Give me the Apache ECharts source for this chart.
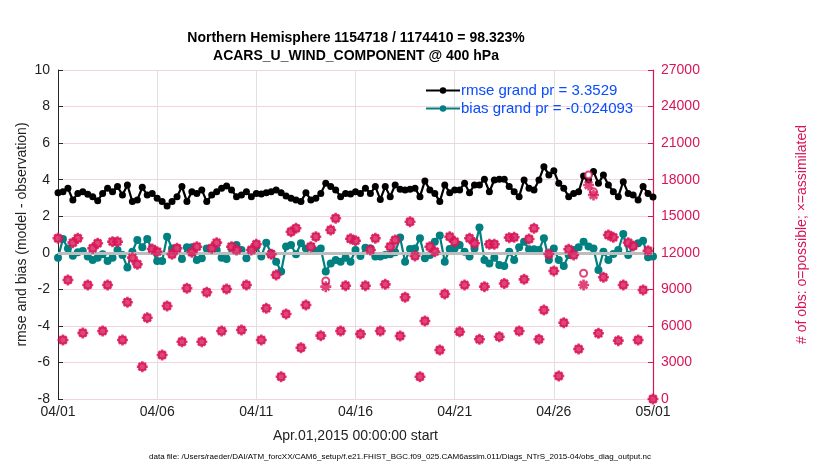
<!DOCTYPE html>
<html lang="en">
<head>
<meta charset="UTF-8">
<title>ACARS U wind 400 hPa</title>
<script src="https://cdn.jsdelivr.net/npm/echarts@6/dist/echarts.min.js"></script>
<style>
  html, body { margin: 0; padding: 0; background: #fff; }
</style>
</head>
<body>
<div id="main" style="width: 830px;height: 470px;"></div>
<script>
    // x axis tick labels (every 5 days)
    var dateLabels = ['04/01', '04/06', '04/11', '04/16', '04/21', '04/26', '05/01'];

    // rmse, 6-hourly from 04/01 00Z to 05/01 00Z
    var rmse = [3.29, 3.34, 3.53, 2.89, 3.25, 3.34, 3.20, 3.07, 2.85, 3.25,
        3.53, 3.34, 3.62, 3.16, 3.71, 2.80, 2.89, 3.58, 3.16, 3.25,
        2.98, 2.80, 2.56, 2.80, 3.07, 3.62, 2.80, 3.34, 3.25, 3.44,
        2.80, 3.16, 3.34, 3.53, 3.66, 3.44, 3.07, 3.16, 3.34, 3.07,
        3.25, 3.22, 3.29, 3.34, 3.44, 3.29, 3.11, 2.98, 2.89, 2.80,
        3.29, 2.89, 2.98, 3.25, 3.80, 3.62, 3.44, 3.07, 3.25, 3.22,
        3.34, 3.25, 3.53, 3.25, 3.62, 2.92, 3.62, 3.07, 3.71, 3.47,
        3.44, 3.47, 3.53, 3.07, 3.93, 3.44, 3.25, 2.80, 3.71, 3.29,
        3.44, 3.44, 3.80, 3.29, 3.71, 3.71, 4.02, 3.34, 3.98, 4.02,
        4.02, 3.62, 3.34, 3.07, 3.98, 3.53, 3.44, 3.98, 4.71, 4.26,
        4.49, 3.80, 3.53, 3.07, 3.25, 3.34, 4.20, 3.98, 4.44, 3.80,
        4.26, 3.71, 3.34, 3.07, 3.89, 3.25, 3.16, 2.89, 3.62, 3.25,
        3.05];

    // bias
    var bias = [-0.27, 0.76, 0.24, -0.16, 0.03, 0.10, -0.21, -0.39, -0.27, -0.08,
        -0.45, -0.27, 0.15, -0.12, -0.81, 0.06, 0.70, 0.30, 0.76, 0.15,
        -0.45, -0.45, 0.88, 0.24, 0.24, -0.34, 0.30, 0.30, -0.39, -0.30,
        0.24, 0.15, 0.15, -0.27, -0.34, 0.34, 0.43, 0.15, -0.30, 0.15,
        0.34, -0.21, 0.55, -0.03, -0.49, -1.03, 0.34, 0.43, -0.08, 0.52,
        0.24, 0.34, 0.10, 0.24, -1.03, -0.58, -0.39, -0.49, -0.27, -0.49,
        0.15, -0.18, 0.28, 0.24, -0.21, -0.21, -0.12, -0.08, 0.03, 0.83,
        -0.49, 0.21, 0.24, 0.79, -0.30, -0.12, 0.61, 0.94, -0.49, 0.21,
        0.24, 0.43, 0.06, -0.21, 0.24, 1.38, -0.39, -0.58, -0.27, -0.67,
        -0.72, 0.06, -0.39, 0.30, 0.61, 0.19, 0.19, 0.15, 0.79, -0.39,
        0.24, -0.39, -0.72, -0.12, 0.15, 0.30, 0.61, 0.34, 0.24, -0.94,
        0.06, -0.39, -0.07, 0.15, 1.03, -0.12, 0.34, 0.52, 0.66, -0.25,
        -0.21];

    // # of obs possible (o)
    var obsPossible = [13190, 4840, 9770, 12830, 13190, 5420, 9360, 12370, 12780, 5580,
        9360, 12910, 12910, 4840, 7940, 11600, 11060, 2650, 6670, 12310,
        12090, 3610, 7630, 11880, 12370, 4700, 9090, 12040, 12500, 4700,
        8760, 12370, 12830, 5580, 9030, 12500, 12230, 5660, 9360, 12230,
        12700, 4840, 7440, 11880, 10180, 1830, 6980, 13730, 14010, 4210,
        7710, 12500, 13320, 5200, 9680, 13870, 14830, 5580, 9300, 13150,
        12990, 5330, 9300, 12230, 13190, 5580, 9410, 12500, 13050, 5170,
        8350, 14550, 11740, 1830, 6400, 12500, 12090, 4020, 8620, 13320,
        12910, 5520, 9360, 13190, 12780, 4900, 9220, 12700, 12700, 5110,
        9480, 13240, 13270, 5580, 9820, 13130, 14010, 4900, 7300, 11900,
        10510, 1890, 6260, 12290, 11820, 4100, 10320, 18380, 17000, 5390,
        9990, 13460, 13270, 4790, 9360, 12830, 12560, 4840, 8950, 12170,
        0];

    // # of obs assimilated (*)
    var obsAssim = [13190, 4840, 9770, 12830, 13190, 5420, 9360, 12370, 12780, 5580,
        9360, 12910, 12910, 4840, 7940, 11600, 11060, 2650, 6670, 12310,
        12090, 3610, 7630, 11880, 12370, 4700, 9090, 12040, 12500, 4700,
        8760, 12370, 12830, 5580, 9030, 12500, 12230, 5660, 9360, 12230,
        12700, 4840, 7440, 11880, 10180, 1830, 6980, 13730, 14010, 4210,
        7710, 12500, 13320, 5200, 9220, 13870, 14830, 5580, 9300, 13150,
        12990, 5330, 9300, 12230, 13190, 5580, 9410, 12500, 13050, 5170,
        8350, 14550, 11740, 1830, 6400, 12500, 12090, 4020, 8620, 13320,
        12910, 5520, 9360, 13190, 12780, 4900, 9220, 12700, 12700, 5110,
        9480, 13240, 13270, 5580, 9820, 13130, 14010, 4900, 7300, 11900,
        10510, 1890, 6260, 12290, 11820, 4100, 9360, 17560, 16740, 5390,
        9990, 13460, 13270, 4790, 9360, 12830, 12560, 4840, 8950, 12170,
        0];

    // 6-hourly time stamps for the category axis
    var times = [];
    var t0 = Date.UTC(2015, 3, 1);
    for (var i = 0; i < rmse.length; i++) {
        var d = new Date(t0 + i * 6 * 3600 * 1000);
        var mm = ('0' + (d.getUTCMonth() + 1)).slice(-2);
        var dd = ('0' + d.getUTCDate()).slice(-2);
        var hh = ('0' + d.getUTCHours()).slice(-2);
        times.push(mm + '/' + dd + ' ' + hh);
    }

    var pink = '#d81558';
    var teal = '#008080';
    var font = 'Liberation Sans, Arial, sans-serif';
    var asterisk = 'path://M5,0L5,10M0,5L10,5M1.6,1.6L8.4,8.4M1.6,8.4L8.4,1.6';

    var chart = echarts.init(document.getElementById('main'));
    chart.setOption({
        animation: false,
        textStyle: { fontFamily: font },
        grid: { left: 58, right: 177, top: 70, bottom: 71 },
        graphic: [
            {
                type: 'text',
                position: [356, 29],
                style: {
                    text: 'Northern Hemisphere 1154718 / 1174410 = 98.323%\nACARS_U_WIND_COMPONENT @ 400 hPa',
                    font: 'bold 14px ' + font, fill: '#000', textAlign: 'center', lineHeight: 18
                }
            },
            {
                type: 'text', position: [400, 453],
                style: {
                    text: 'data file: /Users/raeder/DAI/ATM_forcXX/CAM6_setup/f.e21.FHIST_BGC.f09_025.CAM6assim.011/Diags_NTrS_2015-04/obs_diag_output.nc',
                    font: '8px ' + font, fill: '#000', textAlign: 'center'
                }
            }
        ],
        legend: {
            data: ['rmse grand pr = 3.3529', 'bias grand pr = -0.024093'],
            orient: 'vertical',
            left: 420, top: 78,
            itemWidth: 34, itemHeight: 8, itemGap: 3,
            textStyle: { color: '#0a4cff', fontSize: 15, fontFamily: font, padding: [0, 0, 0, -4] }
        },
        xAxis: {
            type: 'category',
            data: times,
            boundaryGap: false,
            name: 'Apr.01,2015 00:00:00 start',
            nameLocation: 'middle',
            nameGap: 30,
            nameTextStyle: { fontSize: 14, color: '#222' },
            axisLine: { lineStyle: { color: '#262626', width: 1 } },
            axisTick: { inside: true, length: 5, interval: 19, lineStyle: { color: '#262626' } },
            axisLabel: {
                interval: 19, fontSize: 14, color: '#222', margin: 6,
                formatter: function (v, idx) { return dateLabels[idx / 20]; }
            },
            splitLine: { show: true, interval: 19, lineStyle: { color: '#e0e0e0', width: 1 } }
        },
        yAxis: [
            {
                type: 'value', min: -8, max: 10, interval: 2,
                name: 'rmse and bias (model - observation)',
                nameLocation: 'middle', nameGap: 29, nameMoveOverlap: false,
                nameTextStyle: { fontSize: 14, color: '#222' },
                axisLine: { show: true, lineStyle: { color: '#262626' } },
                axisTick: { show: true, inside: true, length: 5, lineStyle: { color: '#262626' } },
                axisLabel: { fontSize: 14, color: '#222', margin: 8 },
                splitLine: { show: true, lineStyle: { color: '#f5d3de', width: 1 } }
            },
            {
                type: 'value', min: 0, max: 27000, interval: 3000, position: 'right',
                name: '# of obs: o=possible; \u00d7=assimilated',
                nameLocation: 'middle', nameGap: 142, nameRotate: 90,
                nameTextStyle: { fontSize: 14, color: pink },
                axisLine: { show: true, lineStyle: { color: pink, width: 1.2 } },
                axisTick: { show: true, inside: true, length: 5, lineStyle: { color: pink } },
                axisLabel: { fontSize: 14, color: pink, margin: 8, formatter: function (v) { return String(v); } },
                splitLine: { show: false }
            }
        ],
        series: [
            {
                name: 'rmse grand pr = 3.3529',
                type: 'line',
                data: rmse,
                color: '#000',
                symbol: 'circle', symbolSize: 7, showAllSymbol: true,
                lineStyle: { color: '#000', width: 2.2 },
                itemStyle: { color: '#000' },
                z: 3
            },
            {
                name: 'bias grand pr = -0.024093',
                type: 'line',
                data: bias,
                color: teal,
                symbol: 'circle', symbolSize: 8, showAllSymbol: true,
                lineStyle: { color: teal, width: 2.2 },
                itemStyle: { color: teal },
                markLine: {
                    silent: true, symbol: 'none', label: { show: false },
                    lineStyle: { color: '#bdbdbd', width: 3, type: 'solid' },
                    data: [{ yAxis: 0 }]
                },
                z: 3
            },
            {
                name: 'possible',
                type: 'scatter',
                yAxisIndex: 1,
                data: obsPossible,
                symbol: 'emptyCircle', symbolSize: 7,
                itemStyle: { color: pink, borderColor: pink, borderWidth: 1.6 },
                z: 4
            },
            {
                name: 'assimilated',
                type: 'scatter',
                yAxisIndex: 1,
                data: obsAssim,
                symbol: asterisk, symbolSize: 11,
                itemStyle: { color: pink, borderColor: pink, borderWidth: 2.6 },
                z: 5
            }
        ]
    });
</script>
</body>
</html>
